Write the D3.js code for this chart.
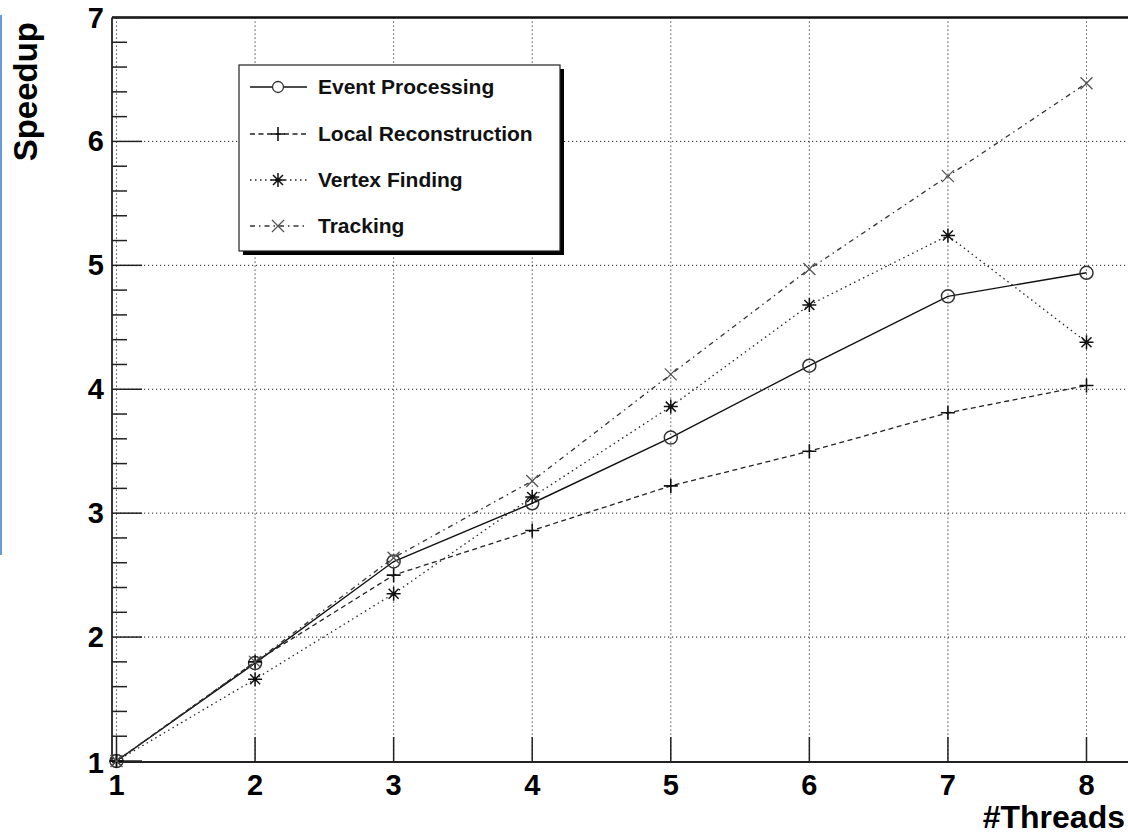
<html lang="en">

<head>
  <meta charset="utf-8">
  <title>Speedup vs threads</title>
  <script type="text/javascript" src="https://d3js.org/d3.v7.min.js"></script>
  <style>
    body { margin: 0; background: #fff; }
    text { font-family: "Liberation Sans", Arial, sans-serif; font-weight: bold; }
  </style>
</head>

<body>
  <svg width="1128" height="837"></svg>
  <script>
    const threads = [1, 2, 3, 4, 5, 6, 7, 8];
    const eventProcessing = [1.0, 1.79, 2.61, 3.08, 3.61, 4.19, 4.75, 4.94];
    const localReconstruction = [1.0, 1.80, 2.50, 2.86, 3.22, 3.50, 3.81, 4.03];
    const vertexFinding = [1.0, 1.66, 2.35, 3.13, 3.86, 4.68, 5.24, 4.38];
    const tracking = [1.0, 1.80, 2.64, 3.26, 4.12, 4.97, 5.72, 6.47];
    const seriesNames = ["Event Processing", "Local Reconstruction", "Vertex Finding", "Tracking"];
    const xTicks = [1, 2, 3, 4, 5, 6, 7, 8];
    const yTicks = [1, 2, 3, 4, 5, 6, 7];

    const svg = d3.select("svg");

    const plotLeft = 112, plotTop = 17.5, plotBottom = 762;
    const x = d3.scaleLinear().domain([1, 8]).range([116.5, 1086.5]);
    const y = d3.scaleLinear().domain([1, 7]).range([761, 17.5]);

    // stray blue edge at the left
    svg.append("line")
      .attr("x1", 1).attr("x2", 1).attr("y1", 15).attr("y2", 555)
      .attr("stroke", "#6a9ad8").attr("stroke-width", 2);

    // grid
    svg.append("g").selectAll("line")
      .data(xTicks)
      .enter()
      .append("line")
      .attr("x1", d => x(d)).attr("x2", d => x(d))
      .attr("y1", plotTop).attr("y2", plotBottom)
      .attr("stroke", "#222").attr("stroke-width", 1)
      .attr("stroke-dasharray", "1.2,2.8");

    svg.append("g").selectAll("line")
      .data(yTicks.slice(1, -1))
      .enter()
      .append("line")
      .attr("x1", plotLeft).attr("x2", 1128)
      .attr("y1", d => y(d)).attr("y2", d => y(d))
      .attr("stroke", "#222").attr("stroke-width", 1)
      .attr("stroke-dasharray", "1.2,2.8");

    // frame
    svg.append("line").attr("x1", plotLeft).attr("x2", 1128).attr("y1", plotTop).attr("y2", plotTop)
      .attr("stroke", "#111").attr("stroke-width", 2.5);
    svg.append("line").attr("x1", plotLeft).attr("x2", plotLeft).attr("y1", plotTop).attr("y2", plotBottom)
      .attr("stroke", "#222").attr("stroke-width", 1.8);
    svg.append("line").attr("x1", plotLeft).attr("x2", 1128).attr("y1", plotBottom).attr("y2", plotBottom)
      .attr("stroke", "#222").attr("stroke-width", 1.8);

    // y ticks (major + minor)
    const yMinor = d3.range(1, 7.001, 0.2);
    svg.append("g").selectAll("line")
      .data(yMinor)
      .enter()
      .append("line")
      .attr("x1", plotLeft)
      .attr("x2", d => Math.abs(d - Math.round(d)) < 1e-6 ? plotLeft + 30 : plotLeft + 15)
      .attr("y1", d => y(d)).attr("y2", d => y(d))
      .attr("stroke", "#222").attr("stroke-width", 1.5);

    // x ticks
    svg.append("g").selectAll("line")
      .data(xTicks)
      .enter()
      .append("line")
      .attr("x1", d => x(d)).attr("x2", d => x(d))
      .attr("y1", plotBottom).attr("y2", plotBottom - 25)
      .attr("stroke", "#222").attr("stroke-width", 1.5);

    // tick labels
    svg.append("g").selectAll("text")
      .data(yTicks)
      .enter()
      .append("text")
      .attr("x", 104)
      .attr("y", d => y(d) + 10 + (d === 1 ? 2 : 0))
      .attr("text-anchor", "end")
      .attr("font-size", 29)
      .text(d => d);

    svg.append("g").selectAll("text")
      .data(xTicks)
      .enter()
      .append("text")
      .attr("x", d => x(d))
      .attr("y", 795)
      .attr("text-anchor", "middle")
      .attr("font-size", 29)
      .text(d => d);

    // axis titles
    svg.append("text")
      .attr("transform", "translate(37,22) rotate(-90)")
      .attr("text-anchor", "end")
      .attr("font-size", 33)
      .text("Speedup");

    svg.append("text")
      .attr("x", 1125).attr("y", 828)
      .attr("text-anchor", "end")
      .attr("font-size", 32)
      .text("#Threads");

    // series
    const styles = [
      { values: eventProcessing, dash: null, color: "#111", width: 1.4, marker: "circle" },
      { values: localReconstruction, dash: "5,3.5", color: "#222", width: 1.3, marker: "plus" },
      { values: vertexFinding, dash: "1.5,3.5", color: "#222", width: 1.3, marker: "star" },
      { values: tracking, dash: "5,4,1.5,4", color: "#333", width: 1.3, marker: "cross" }
    ];

    function drawMarker(g, type, cx, cy) {
      if (type === "circle") {
        g.append("circle").attr("cx", cx).attr("cy", cy).attr("r", 6.5)
          .attr("fill", "none").attr("stroke", "#333").attr("stroke-width", 1.5);
      } else if (type === "plus") {
        g.append("path").attr("d", `M${cx - 7},${cy}H${cx + 7}M${cx},${cy - 7}V${cy + 7}`)
          .attr("stroke", "#111").attr("stroke-width", 1.6);
      } else if (type === "star") {
        g.append("path").attr("d",
          `M${cx - 7},${cy}H${cx + 7}M${cx},${cy - 7}V${cy + 7}` +
          `M${cx - 5},${cy - 5}L${cx + 5},${cy + 5}M${cx - 5},${cy + 5}L${cx + 5},${cy - 5}`)
          .attr("stroke", "#111").attr("stroke-width", 1.5);
        g.append("circle").attr("cx", cx).attr("cy", cy).attr("r", 2).attr("fill", "#111");
      } else {
        g.append("path").attr("d",
          `M${cx - 6},${cy - 6}L${cx + 6},${cy + 6}M${cx - 6},${cy + 6}L${cx + 6},${cy - 6}`)
          .attr("stroke", "#555").attr("stroke-width", 1.3);
      }
    }

    const line = d3.line().x((d, i) => x(threads[i])).y(d => y(d));

    styles.forEach(s => {
      svg.append("path")
        .datum(s.values)
        .attr("d", line)
        .attr("fill", "none")
        .attr("stroke", s.color)
        .attr("stroke-width", s.width)
        .attr("stroke-dasharray", s.dash);
    });
    styles.forEach(s => {
      const g = svg.append("g");
      s.values.forEach((v, i) => drawMarker(g, s.marker, x(threads[i]), y(v)));
    });

    // legend
    const lg = svg.append("g");
    lg.append("rect").attr("x", 243).attr("y", 69).attr("width", 321).attr("height", 186).attr("fill", "#000");
    lg.append("rect").attr("x", 239).attr("y", 65).attr("width", 321).attr("height", 186)
      .attr("fill", "#fff").attr("stroke", "#222").attr("stroke-width", 1.2);
    const rowY = [87, 134, 180, 226];
    styles.forEach((s, i) => {
      lg.append("line")
        .attr("x1", 250).attr("x2", 307).attr("y1", rowY[i]).attr("y2", rowY[i])
        .attr("stroke", s.color).attr("stroke-width", s.width)
        .attr("stroke-dasharray", s.dash);
      const mg = lg.append("g");
      if (s.marker === "circle") {
        mg.append("circle").attr("cx", 278).attr("cy", rowY[i]).attr("r", 5.5)
          .attr("fill", "#fff").attr("stroke", "#333").attr("stroke-width", 1.3);
      } else {
        drawMarker(mg, s.marker, 278, rowY[i]);
      }
      lg.append("text")
        .attr("x", 318).attr("y", rowY[i] + 7)
        .attr("font-size", 21)
        .attr("fill", "#111")
        .text(seriesNames[i]);
    });
  </script>
</body>

</html>
